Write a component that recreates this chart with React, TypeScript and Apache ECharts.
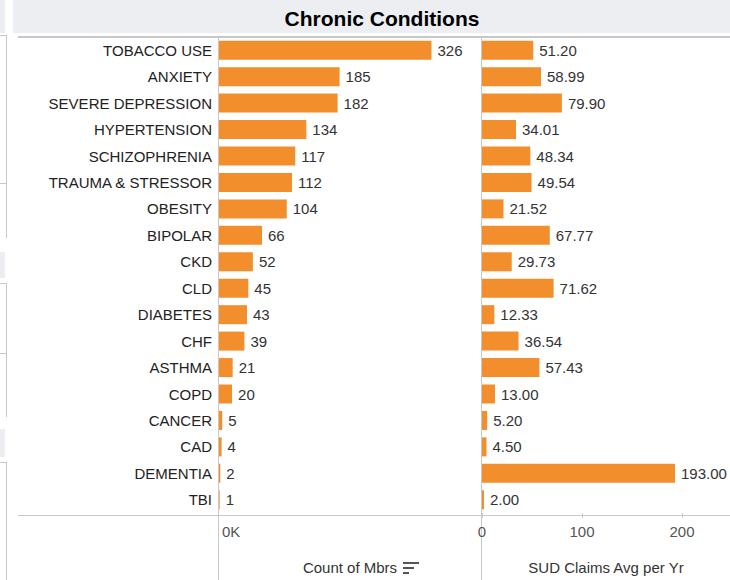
import React, { useEffect, useRef } from "react";
import * as echarts from "echarts";

const categories = [
  "TOBACCO USE", "ANXIETY", "SEVERE DEPRESSION", "HYPERTENSION", "SCHIZOPHRENIA",
  "TRAUMA & STRESSOR", "OBESITY", "BIPOLAR", "CKD", "CLD", "DIABETES", "CHF",
  "ASTHMA", "COPD", "CANCER", "CAD", "DEMENTIA", "TBI",
];
const countOfMbrs = [326, 185, 182, 134, 117, 112, 104, 66, 52, 45, 43, 39, 21, 20, 5, 4, 2, 1];
const sudClaimsAvg = [51.2, 58.99, 79.9, 34.01, 48.34, 49.54, 21.52, 67.77, 29.73, 71.62, 12.33, 36.54, 57.43, 13.0, 5.2, 4.5, 193.0, 2.0];
const rightTicks = [0, 100, 200];

const FONT = "Arial, 'Liberation Sans', sans-serif";
const BAR = "#f28e2b";
const LINE = "#c8c8c8";
const TEXT = "#333333";
const FS = 15;

export default function App() {
  const ref = useRef<HTMLDivElement>(null);
  useEffect(() => {
    if (!ref.current) return;
    const chart = echarts.init(ref.current, undefined, { renderer: "svg" });
    const ln = (x1: number, y1: number, x2: number, y2: number, w = 1, c = LINE) => ({
      type: "line",
      shape: { x1, y1, x2, y2 },
      style: { stroke: c, lineWidth: w },
      silent: true,
    });
    const rect = (x: number, y: number, width: number, height: number, fill: string) => ({
      type: "rect",
      shape: { x, y, width, height },
      style: { fill },
      silent: true,
    });
    chart.setOption({
      animation: false,
      backgroundColor: "#ffffff",
      textStyle: { fontFamily: FONT },
      graphic: [
        // left decorations
        rect(0, 0, 5, 33, "#eceef1"),
        ln(0, 35.5, 6.5, 35.5),
        ln(6.5, 35, 6.5, 238),
        ln(0, 183.5, 6.5, 183.5),
        rect(0, 252, 5, 26, "#eceef1"),
        ln(0, 283.5, 6.5, 283.5),
        ln(6.5, 283, 6.5, 417),
        ln(0, 353.5, 6.5, 353.5),
        rect(0, 429, 5, 28, "#eceef1"),
        ln(0, 462.5, 6.5, 462.5),
        ln(6.5, 462, 6.5, 580),
        // title bar
        rect(13, 0, 717, 33, "#eceef1"),
        {
          type: "text",
          x: 382,
          y: 18,
          style: {
            text: "Chronic Conditions",
            font: `bold 21px ${FONT}`,
            fill: "#000000",
            align: "center",
            verticalAlign: "middle",
          },
          silent: true,
        },
        // frame lines
        ln(18, 37, 730, 37, 2),
        ln(18, 515.5, 730, 515.5),
        ln(218.5, 37, 218.5, 580),
        ln(481.5, 37, 481.5, 580),
        // sort icon
        rect(403, 562, 16, 2, "#555555"),
        rect(403, 567, 11, 2, "#555555"),
        rect(403, 572, 6, 2, "#555555"),
      ],
      grid: [
        { left: 219, top: 37, width: 262, height: 478 },
        { left: 482, top: 37, width: 248, height: 478 },
      ],
      yAxis: [
        {
          type: "category",
          gridIndex: 0,
          data: categories,
          inverse: true,
          axisLine: { show: false },
          axisTick: { show: false },
          axisLabel: { color: "#222222", fontSize: FS, fontFamily: FONT, margin: 7 },
        },
        {
          type: "category",
          gridIndex: 1,
          data: categories,
          inverse: true,
          axisLine: { show: false },
          axisTick: { show: false },
          axisLabel: { show: false },
        },
      ],
      xAxis: [
        {
          type: "value",
          gridIndex: 0,
          min: 0,
          max: 402,
          interval: 402,
          splitLine: { show: false },
          axisLine: { show: false },
          axisTick: { show: false },
          axisLabel: {
            color: "#555555",
            fontSize: FS,
            fontFamily: FONT,
            margin: 11,
            align: "left",
            padding: [0, 0, 0, 3],
            formatter: (v: number) => (v === 0 ? "0K" : ""),
          },
          name: "Count of Mbrs",
          nameLocation: "middle",
          nameGap: 47,
          nameTextStyle: { color: TEXT, fontSize: FS, fontFamily: FONT },
        },
        {
          type: "value",
          gridIndex: 1,
          min: 0,
          max: 248,
          interval: 100,
          splitLine: { show: false },
          axisLine: { show: false },
          axisTick: { show: true, length: 5, lineStyle: { color: LINE } },
          axisLabel: {
            color: "#555555",
            fontSize: FS,
            fontFamily: FONT,
            margin: 11,
            showMaxLabel: false,
            formatter: (v: number) => (rightTicks.includes(v) ? String(v) : ""),
          },
          name: "SUD Claims Avg per Yr",
          nameLocation: "middle",
          nameGap: 47,
          nameTextStyle: { color: TEXT, fontSize: FS, fontFamily: FONT },
        },
      ],
      series: [
        {
          type: "bar",
          xAxisIndex: 0,
          yAxisIndex: 0,
          data: countOfMbrs,
          barWidth: 19,
          itemStyle: { color: BAR },
          label: {
            show: true,
            position: "right",
            distance: 6,
            color: TEXT,
            fontSize: FS,
            fontFamily: FONT,
          },
        },
        {
          type: "bar",
          xAxisIndex: 1,
          yAxisIndex: 1,
          data: sudClaimsAvg,
          barWidth: 19,
          itemStyle: { color: BAR },
          label: {
            show: true,
            position: "right",
            distance: 6,
            color: TEXT,
            fontSize: FS,
            fontFamily: FONT,
            formatter: (p: any) => Number(p.value).toFixed(2),
          },
        },
      ],
    });
    return () => chart.dispose();
  }, []);
  return (
    <div
      ref={ref}
      style={{ position: "absolute", left: 0, top: 0, width: 730, height: 580 }}
    />
  );
}
